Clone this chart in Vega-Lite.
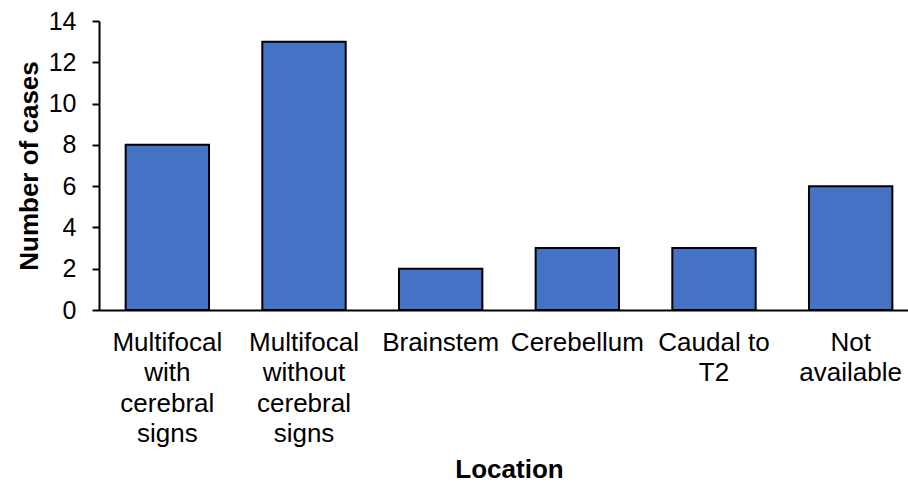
{
  "$schema": "https://vega.github.io/schema/vega-lite/v6.json",
  "autosize": {"type": "none"},
  "width": 809,
  "height": 289,
  "padding": {"left": 99, "top": 21, "right": 0, "bottom": 174},
  "background": "white",
  "config": {
    "view": {"stroke": null},
    "font": "Liberation Sans",
    "axis": {
      "grid": false,
      "domainColor": "black",
      "domainWidth": 2,
      "tickColor": "black",
      "tickWidth": 2,
      "labelColor": "black",
      "titleColor": "black",
      "labelFont": "Liberation Sans",
      "titleFont": "Liberation Sans",
      "labelFontSize": 25,
      "titleFontSize": 26,
      "titleFontWeight": "bold"
    }
  },
  "data": {
    "values": [
      {"location": "Multifocal with cerebral signs", "cases": 8},
      {"location": "Multifocal without cerebral signs", "cases": 13},
      {"location": "Brainstem", "cases": 2},
      {"location": "Cerebellum", "cases": 3},
      {"location": "Caudal to T2", "cases": 3},
      {"location": "Not available", "cases": 6}
    ]
  },
  "mark": {"type": "bar", "color": "#4472C4", "stroke": "black", "strokeWidth": 2},
  "encoding": {
    "x": {
      "field": "location",
      "type": "nominal",
      "sort": null,
      "scale": {"range": [0, 820], "paddingInner": 0.39, "paddingOuter": 0.195},
      "axis": {
        "title": "Location",
        "labelAngle": 0,
        "ticks": false,
        "labelFontSize": 26,
        "labelPadding": 19,
        "labelLineHeight": 30.5,
        "labelLimit": 0,
        "labelExpr": "datum.label == 'Caudal to T2' ? ['Caudal to', 'T2'] : split(datum.label, ' ')",
        "titlePadding": 10
      }
    },
    "y": {
      "field": "cases",
      "type": "quantitative",
      "scale": {"domain": [0, 14], "nice": false},
      "axis": {
        "title": "Number of cases",
        "values": [0, 2, 4, 6, 8, 10, 12, 14],
        "tickSize": 7,
        "labelPadding": 16,
        "titlePadding": 6
      }
    }
  }
}
